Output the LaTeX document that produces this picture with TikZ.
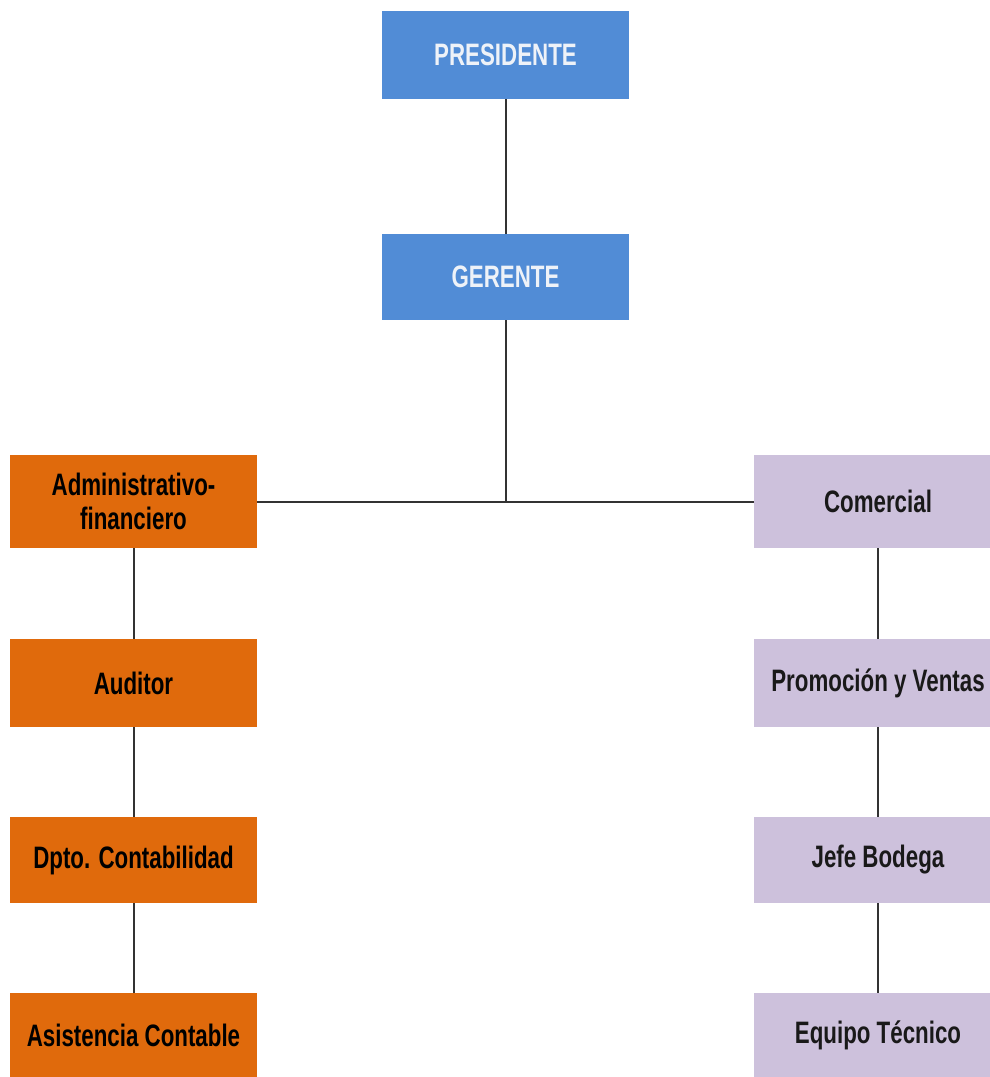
\documentclass[tikz,border=0pt]{standalone}
\usepackage{fontspec}
\setmainfont{Liberation Sans}[FakeStretch=0.72]
\definecolor{bluebox}{HTML}{518CD6}
\definecolor{orangebox}{HTML}{E06A0C}
\definecolor{lavbox}{HTML}{CDC1DC}
\definecolor{whitetext}{HTML}{EEF2F8}
\tikzset{
  box/.style={rectangle, inner sep=0pt, align=center, font=\bfseries\fontsize{31}{34}\selectfont},
  topbox/.style={box, fill=bluebox, text=whitetext, minimum width=247pt, minimum height=88pt},
  lbox/.style={box, fill=orangebox, text=black, minimum width=247pt},
  rbox/.style={box, fill=lavbox, text=black!90, minimum width=248pt},
  conn/.style={draw=black!80, line width=2pt}
}
\begin{document}
\begin{tikzpicture}[x=1pt,y=-1pt]
\useasboundingbox (0,0) rectangle (990,1077);
\clip (0,0) rectangle (990,1077);
\node[topbox] (pres) at (505.5,55) {PRESIDENTE};
\node[topbox, minimum height=86pt] (ger) at (505.5,277) {GERENTE};
\node[lbox, minimum height=93pt] (adm) at (133.5,501.5) {Administrativo-\\financiero};
\node[rbox, minimum height=93pt] (com) at (878,501.5) {Comercial};
\node[lbox, minimum height=88pt] (aud) at (133.5,683) {Auditor};
\node[rbox, minimum height=88pt] (pro) at (878,683) {Promoción y Ventas};
\node[lbox, minimum height=86pt] (dpt) at (133.5,860) {Dpto. Contabilidad};
\node[rbox, minimum height=86pt] (jef) at (878,860) {Jefe Bodega};
\node[lbox, minimum height=84pt] (asi) at (133.5,1035) {Asistencia Contable};
\node[rbox, minimum height=84pt] (equ) at (878,1035) {Equipo Técnico};
\coordinate (j) at (pres.south |- adm.east);
\draw[conn] (pres.south) -- (ger.north);
\draw[conn] (ger.south) -- (j);
\draw[conn] (adm.east) -- (com.west);
\draw[conn] (adm.south) -- (aud.north);
\draw[conn] (aud.south) -- (dpt.north);
\draw[conn] (dpt.south) -- (asi.north);
\draw[conn] (com.south) -- (pro.north);
\draw[conn] (pro.south) -- (jef.north);
\draw[conn] (jef.south) -- (equ.north);
\end{tikzpicture}
\end{document}
